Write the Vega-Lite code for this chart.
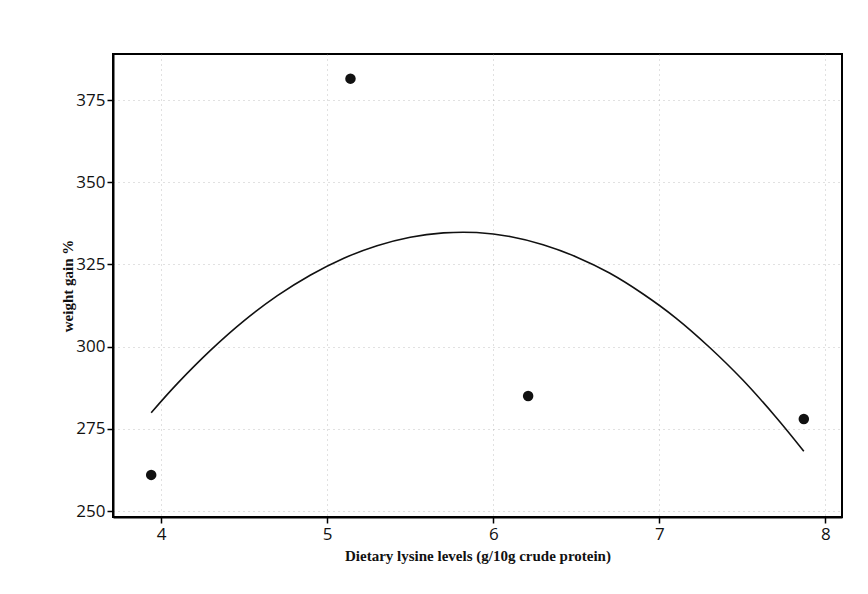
{
  "$schema": "https://vega.github.io/schema/vega-lite/v6.json",
  "autosize": {"type": "none"},
  "width": 729,
  "height": 463,
  "padding": {"left": 113, "top": 54, "right": 26, "bottom": 77},
  "background": "white",
  "config": {
    "view": {"stroke": "black", "strokeWidth": 2},
    "axis": {
      "labelFont": "Open Sans",
      "labelFontSize": 17,
      "labelColor": "#111",
      "titleFont": "Liberation Serif",
      "titleFontWeight": "bold",
      "titleFontSize": 15,
      "titleColor": "#111",
      "domainColor": "black",
      "domainWidth": 2,
      "tickColor": "black",
      "tickWidth": 1.5,
      "tickSize": 6,
      "gridColor": "#999",
      "gridDash": [1, 4],
      "gridOpacity": 0.6
    }
  },
  "datasets": {
    "obs": [
      {"lysine": 3.94, "gain": 261},
      {"lysine": 5.14, "gain": 381.5},
      {"lysine": 6.21, "gain": 285},
      {"lysine": 7.87, "gain": 278}
    ],
    "fit": [
      {"lysine": 3.94, "gain": 279.9},
      {"lysine": 4.1, "gain": 288.9},
      {"lysine": 4.3, "gain": 299.0},
      {"lysine": 4.5, "gain": 307.9},
      {"lysine": 4.7, "gain": 315.5},
      {"lysine": 4.9, "gain": 321.8},
      {"lysine": 5.1, "gain": 326.9},
      {"lysine": 5.3, "gain": 330.7},
      {"lysine": 5.5, "gain": 333.3},
      {"lysine": 5.7, "gain": 334.6},
      {"lysine": 5.9, "gain": 334.7},
      {"lysine": 6.1, "gain": 333.5},
      {"lysine": 6.3, "gain": 331.0},
      {"lysine": 6.5, "gain": 327.3},
      {"lysine": 6.7, "gain": 322.4},
      {"lysine": 6.9, "gain": 316.1},
      {"lysine": 7.1, "gain": 308.7},
      {"lysine": 7.3, "gain": 299.9},
      {"lysine": 7.5, "gain": 290.0},
      {"lysine": 7.7, "gain": 278.7},
      {"lysine": 7.87, "gain": 268.2}
    ]
  },
  "layer": [
    {
      "data": {"name": "fit"},
      "mark": {"type": "line", "color": "#111", "strokeWidth": 1.6, "interpolate": "cardinal"},
      "encoding": {
        "x": {
          "field": "lysine", "type": "quantitative",
          "scale": {"domain": [3.71, 8.1], "nice": false, "zero": false},
          "axis": {"title": "Dietary lysine levels (g/10g crude protein)", "values": [4, 5, 6, 7, 8], "format": "d", "titlePadding": 6, "labelPadding": 3}
        },
        "y": {
          "field": "gain", "type": "quantitative",
          "scale": {"domain": [248.2, 389], "nice": false, "zero": false},
          "axis": {"title": "weight gain %", "values": [250, 275, 300, 325, 350, 375], "titlePadding": 0, "labelPadding": 2}
        }
      }
    },
    {
      "data": {"name": "obs"},
      "mark": {"type": "circle", "color": "#111", "opacity": 1, "size": 110},
      "encoding": {
        "x": {"field": "lysine", "type": "quantitative"},
        "y": {"field": "gain", "type": "quantitative"}
      }
    }
  ]
}
